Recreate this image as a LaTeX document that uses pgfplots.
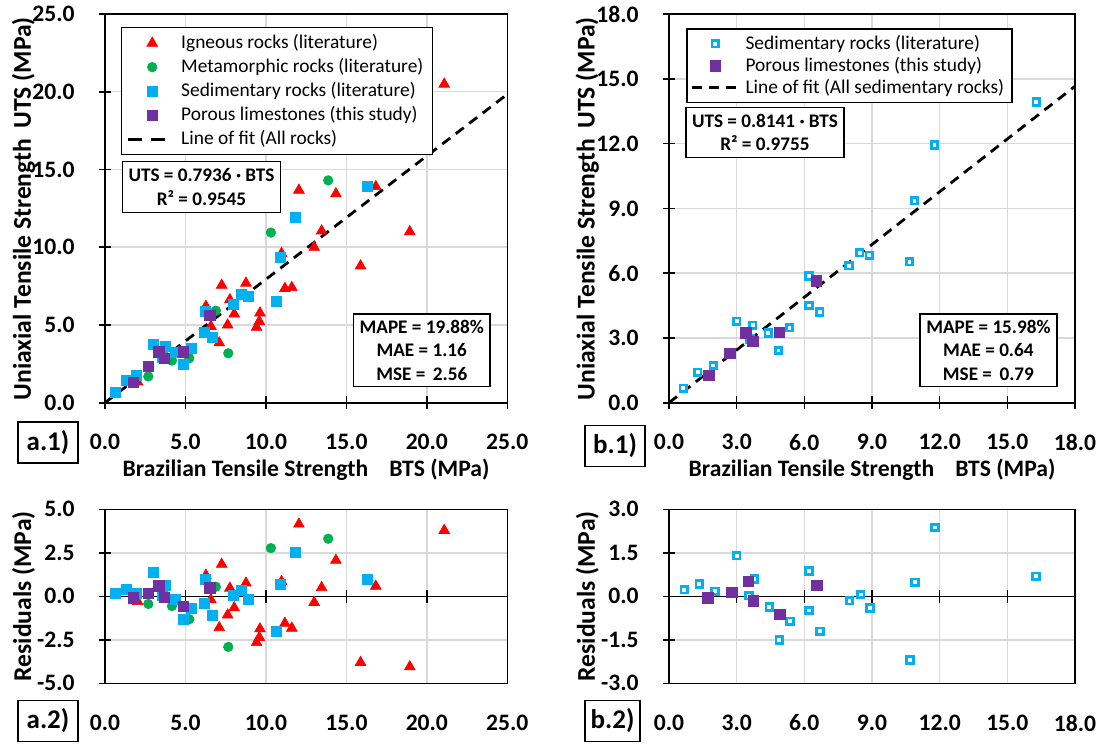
\documentclass[border=0pt]{standalone}
\usepackage{fontspec}
\setmainfont{Carlito}
\usepackage{pgfplots}
\pgfplotsset{compat=1.18}
\definecolor{ign}{HTML}{FF0000}
\definecolor{met}{HTML}{00B050}
\definecolor{sed}{HTML}{00B0F0}
\definecolor{por}{HTML}{7030A0}
\definecolor{gridc}{HTML}{D9D9D9}
\tikzset{
  boxn/.style={draw=black, line width=0.75pt, fill=white, align=center, anchor=north west,
    font=\bfseries\fontsize{9.6}{11.8}\selectfont, inner sep=1pt},
}
\pgfplotsset{
  panel/.style={
    scale only axis,
    anchor=south west,
    axis line style={black, line width=0.8pt},
    tick align=center,
    tick pos=left,
    major tick length=6.4pt,
    tick style={black, line width=0.8pt},
    grid=major,
    major grid style={gridc, line width=0.75pt},
    /pgf/number format/assume math mode=true,
    tick label style={font=\bfseries\fontsize{11.8}{13}\selectfont,
      /pgf/number format/fixed, /pgf/number format/fixed zerofill,
      /pgf/number format/precision=1},
    xticklabel style={yshift=-9pt},
    yticklabel style={xshift=-8.5pt},
  },
  ignm/.style={only marks, mark=triangle*, mark size=3.1pt, mark options={draw=ign, fill=ign, line width=0.3pt}},
  metm/.style={only marks, mark=*, mark size=2.4pt, mark options={draw=met, fill=met, line width=0.3pt}},
  sedm/.style={only marks, mark=square*, mark size=2.5pt, mark options={draw=sed, fill=sed, line width=0.3pt}},
  porm/.style={only marks, mark=square*, mark size=2.6pt, mark options={draw=por, fill=por, line width=0.3pt}},
  sedo/.style={only marks, mark=square*, mark size=1.65pt, mark options={draw=sed, fill=white, line width=1.4pt}},
  fitl/.style={black, line width=1.4pt, dash pattern=on 5pt off 3.5pt},
}
\begin{document}
\begin{tikzpicture}
\useasboundingbox (0,0) rectangle (551pt,373pt);

% ---------------- a.1 ----------------
\begin{axis}[panel, at={(52.5pt,171.65pt)}, width=201.15pt, height=194.35pt,
  xmin=0, xmax=25, ymin=0, ymax=25, xtick={0,5,...,25}, ytick={0,5,...,25},
  legend style={at={(rel axis cs:0.039,0.967)}, anchor=north west, draw=black, line width=0.75pt,
    font=\fontsize{9.7}{11}\selectfont, inner xsep=2.5pt, inner ysep=1.5pt, row sep=-0.6pt,
    /tikz/every odd column/.append style={column sep=5.5pt}},
  legend image code/.code={\draw[mark repeat=2, mark phase=2, #1] plot coordinates {(0pt,0pt) (12.2pt,0pt) (18.5pt,0pt)};},
  legend cell align=left]
\addplot[fitl, forget plot] coordinates {(0,0) (25,19.84)};
\addplot[ignm] coordinates {(2.03,1.33) (6.27,6.2) (7.25,7.56) (8.76,7.69) (7.76,6.62) (6.58,4.91)
 (8.03,5.71) (7.62,5.0) (7.1,3.85) (9.63,5.77) (9.59,5.23) (9.42,4.85) (10.97,9.6) (11.18,7.35)
 (11.61,7.41) (13.0,10.0) (13.46,11.05) (12.05,13.67) (14.35,13.44) (16.83,13.9) (18.94,11.0)
 (15.88,8.8) (21.08,20.49)};
\addlegendentry{Igneous rocks (literature)}
\addplot[metm] coordinates {(2.69,1.69) (4.16,2.71) (5.24,2.86) (6.89,5.92) (7.66,3.18) (10.31,10.94) (13.87,14.3)};
\addlegendentry{Metamorphic rocks (literature)\hspace{7pt}}
\addplot[sedm] coordinates {(0.62,0.69) (1.30,1.43) (1.97,1.75) (3.0,3.78) (3.75,3.63) (3.57,2.92)
 (4.38,3.22) (4.84,2.45) (5.35,3.48) (6.21,5.85) (6.17,4.53) (6.69,4.21) (8.0,6.35) (8.46,6.95)
 (8.9,6.83) (10.66,6.5) (10.87,9.34) (11.8,11.92) (16.3,13.92)};
\addlegendentry{Sedimentary rocks (literature)\hspace{7pt}}
\addplot[porm] coordinates {(1.76,1.3) (2.69,2.33) (3.35,3.27) (3.68,2.86) (4.87,3.28) (6.52,5.64)};
\addlegendentry{Porous limestones (this study)\hspace{7pt}}
\addlegendimage{black, line width=1.4pt, dash pattern=on 7pt off 4.5pt}
\addlegendentry{Line of fit (All rocks)}
\node[boxn, minimum width=79pt, minimum height=25.5pt] at (rel axis cs:0.0415,0.6226)
  {UTS = 0.7936 · BTS\\R² = 0.9545};
\node[boxn, minimum width=68.3pt, minimum height=36.2pt] at (rel axis cs:0.6157,0.230)
  {MAPE = 19.88\%\\MAE = 1.16\\MSE = \,2.56};
\end{axis}

% ---------------- b.1 ----------------
\begin{axis}[panel, at={(334.5pt,171.65pt)}, width=203pt, height=194.35pt,
  xmin=0, xmax=18, ymin=0, ymax=18, xtick={0,3,...,18}, ytick={0,3,...,18},
  legend style={at={(rel axis cs:0.0419,0.963)}, anchor=north west, draw=black, line width=0.75pt,
    font=\fontsize{9.7}{11}\selectfont, inner xsep=2pt, inner ysep=1pt, row sep=-1.6pt,
    /tikz/every odd column/.append style={column sep=1.5pt}},
  legend image code/.code={\draw[mark repeat=2, mark phase=2, #1] plot coordinates {(0pt,0pt) (11.6pt,0pt) (22.5pt,0pt)};},
  legend cell align=left]
\addplot[fitl, forget plot] coordinates {(0,0) (18,14.654)};
\addplot[sedo] coordinates {(0.63,0.67) (1.27,1.41) (1.96,1.72) (3.0,3.77) (3.71,3.58) (3.59,2.95)
 (4.4,3.22) (4.85,2.42) (5.34,3.47) (6.2,5.86) (6.2,4.5) (6.68,4.2) (7.98,6.34) (8.45,6.95)
 (8.88,6.83) (10.66,6.53) (10.88,9.35) (11.77,11.94) (16.28,13.93)};
\addlegendentry{Sedimentary rocks (literature)}
\addplot[porm] coordinates {(1.77,1.27) (2.7,2.3) (3.41,3.23) (3.71,2.84) (4.89,3.27) (6.52,5.64)};
\addlegendentry{Porous limestones (this study)}
\addlegendimage{black, line width=1.4pt, dash pattern=on 5pt off 3.5pt}
\addlegendentry{Line of fit (All sedimentary rocks)\hspace{6pt}}
\node[boxn, minimum width=79.2pt, minimum height=25pt] at (rel axis cs:0.0394,0.7615)
  {UTS = 0.8141 · BTS\\R² = 0.9755};
\node[boxn, minimum width=68.35pt, minimum height=36.2pt] at (rel axis cs:0.6165,0.230)
  {MAPE = 15.98\%\\MAE = 0.64\\MSE = \,0.79};
\end{axis}

% ---------------- a.2 ----------------
\begin{axis}[panel, at={(52.5pt,31.35pt)}, width=201.15pt, height=87pt,
  xmin=0, xmax=25, ymin=-5, ymax=5, xtick={0,5,...,25}, ytick={-5,-2.5,0,2.5,5},
  xtick style={draw=none}]
\draw[black, line width=0.8pt] (axis cs:0,0) -- (axis cs:25,0);
\pgfplotsinvokeforeach{5,10,15,20}{\draw[black, line width=0.8pt] (axis cs:#1,0) ++(0pt,-3.2pt) -- ++(0pt,6.4pt);}
\addplot[ignm] coordinates {(2.03,-0.30) (6.27,1.21) (7.25,1.84) (8.76,0.76) (7.76,0.47) (6.58,-0.2)
 (8.03,-0.66) (7.62,-1.07) (7.1,-1.8) (9.63,-1.87) (9.59,-2.36) (9.42,-2.66) (10.97,0.85) (11.18,-1.55)
 (11.61,-1.83) (13.0,-0.35) (13.46,0.5) (12.05,4.15) (14.35,2.07) (16.83,0.58) (18.94,-4.05)
 (15.88,-3.8) (21.08,3.79)};
\addplot[metm] coordinates {(2.69,-0.44) (4.16,-0.56) (5.24,-1.32) (6.89,0.55) (7.66,-2.91) (10.31,2.77) (13.87,3.31)};
\addplot[sedm] coordinates {(0.62,0.2) (1.30,0.39) (1.97,0.17) (3.0,1.39) (3.75,0.63) (3.57,0.08)
 (4.38,-0.18) (4.84,-1.32) (5.35,-0.7) (6.21,0.95) (6.17,-0.38) (6.69,-1.11) (8.0,0.08) (8.46,0.32)
 (8.9,-0.15) (10.66,-2.03) (10.87,0.7) (11.8,2.55) (16.3,0.97)};
\addplot[porm] coordinates {(1.76,-0.08) (2.69,0.16) (3.35,0.6) (3.68,-0.06) (4.87,-0.58) (6.52,0.48)};
\end{axis}

% ---------------- b.2 ----------------
\begin{axis}[panel, at={(334.5pt,31.35pt)}, width=203pt, height=87pt,
  xmin=0, xmax=18, ymin=-3, ymax=3, xtick={0,3,...,18}, ytick={-3,-1.5,0,1.5,3},
  xtick style={draw=none}]
\draw[black, line width=0.8pt] (axis cs:0,0) -- (axis cs:18,0);
\pgfplotsinvokeforeach{3,6,9,12,15}{\draw[black, line width=0.8pt] (axis cs:#1,0) ++(0pt,-3.2pt) -- ++(0pt,6.4pt);}
\addplot[sedo] coordinates {(0.68,0.23) (1.34,0.43) (2.04,0.17) (3.0,1.4) (3.78,0.6) (3.55,0.02)
 (4.45,-0.37) (4.89,-1.5) (5.37,-0.86) (6.21,0.87) (6.21,-0.49) (6.7,-1.21) (8.0,-0.15) (8.5,0.06)
 (8.91,-0.4) (10.69,-2.19) (10.91,0.48) (11.8,2.37) (16.27,0.69)};
\addplot[porm] coordinates {(1.72,-0.05) (2.78,0.13) (3.52,0.52) (3.74,-0.15) (4.92,-0.63) (6.55,0.37)};
\end{axis}

% ---------------- labels ----------------
\begin{scope}[every node/.style={font=\bfseries\fontsize{12.8}{14}\selectfont}]
\node[rotate=90] at (11.8pt,268.6pt) {Uniaxial Tensile Strength\hspace{0.4em}UTS (MPa)};
\node[rotate=90] at (293.6pt,268.6pt) {Uniaxial Tensile Strength\hspace{0.4em}UTS (MPa)};
\node[rotate=90] at (11.8pt,74.85pt) {Residuals (MPa)};
\node[rotate=90] at (293.6pt,74.85pt) {Residuals (MPa)};
\end{scope}
\begin{scope}[every node/.style={font=\bfseries\fontsize{11.8}{13}\selectfont}]
\node at (153pt,138pt) {Brazilian Tensile Strength\hspace{0.9em}BTS (MPa)};
\node at (436pt,138pt) {Brazilian Tensile Strength\hspace{0.9em}BTS (MPa)};
\end{scope}
\begin{scope}[every node/.style={draw=black, line width=0.75pt, font=\bfseries\fontsize{13.5}{15}\selectfont,
   minimum width=30pt, minimum height=20.5pt, inner sep=1pt}]
\node at (24pt,151.75pt) {a.1)};
\node at (307.5pt,150pt) {b.1)};
\node at (24pt,12.5pt) {a.2)};
\node[minimum width=27.5pt] at (306.25pt,12.5pt) {b.2)};
\end{scope}
\end{tikzpicture}
\end{document}
